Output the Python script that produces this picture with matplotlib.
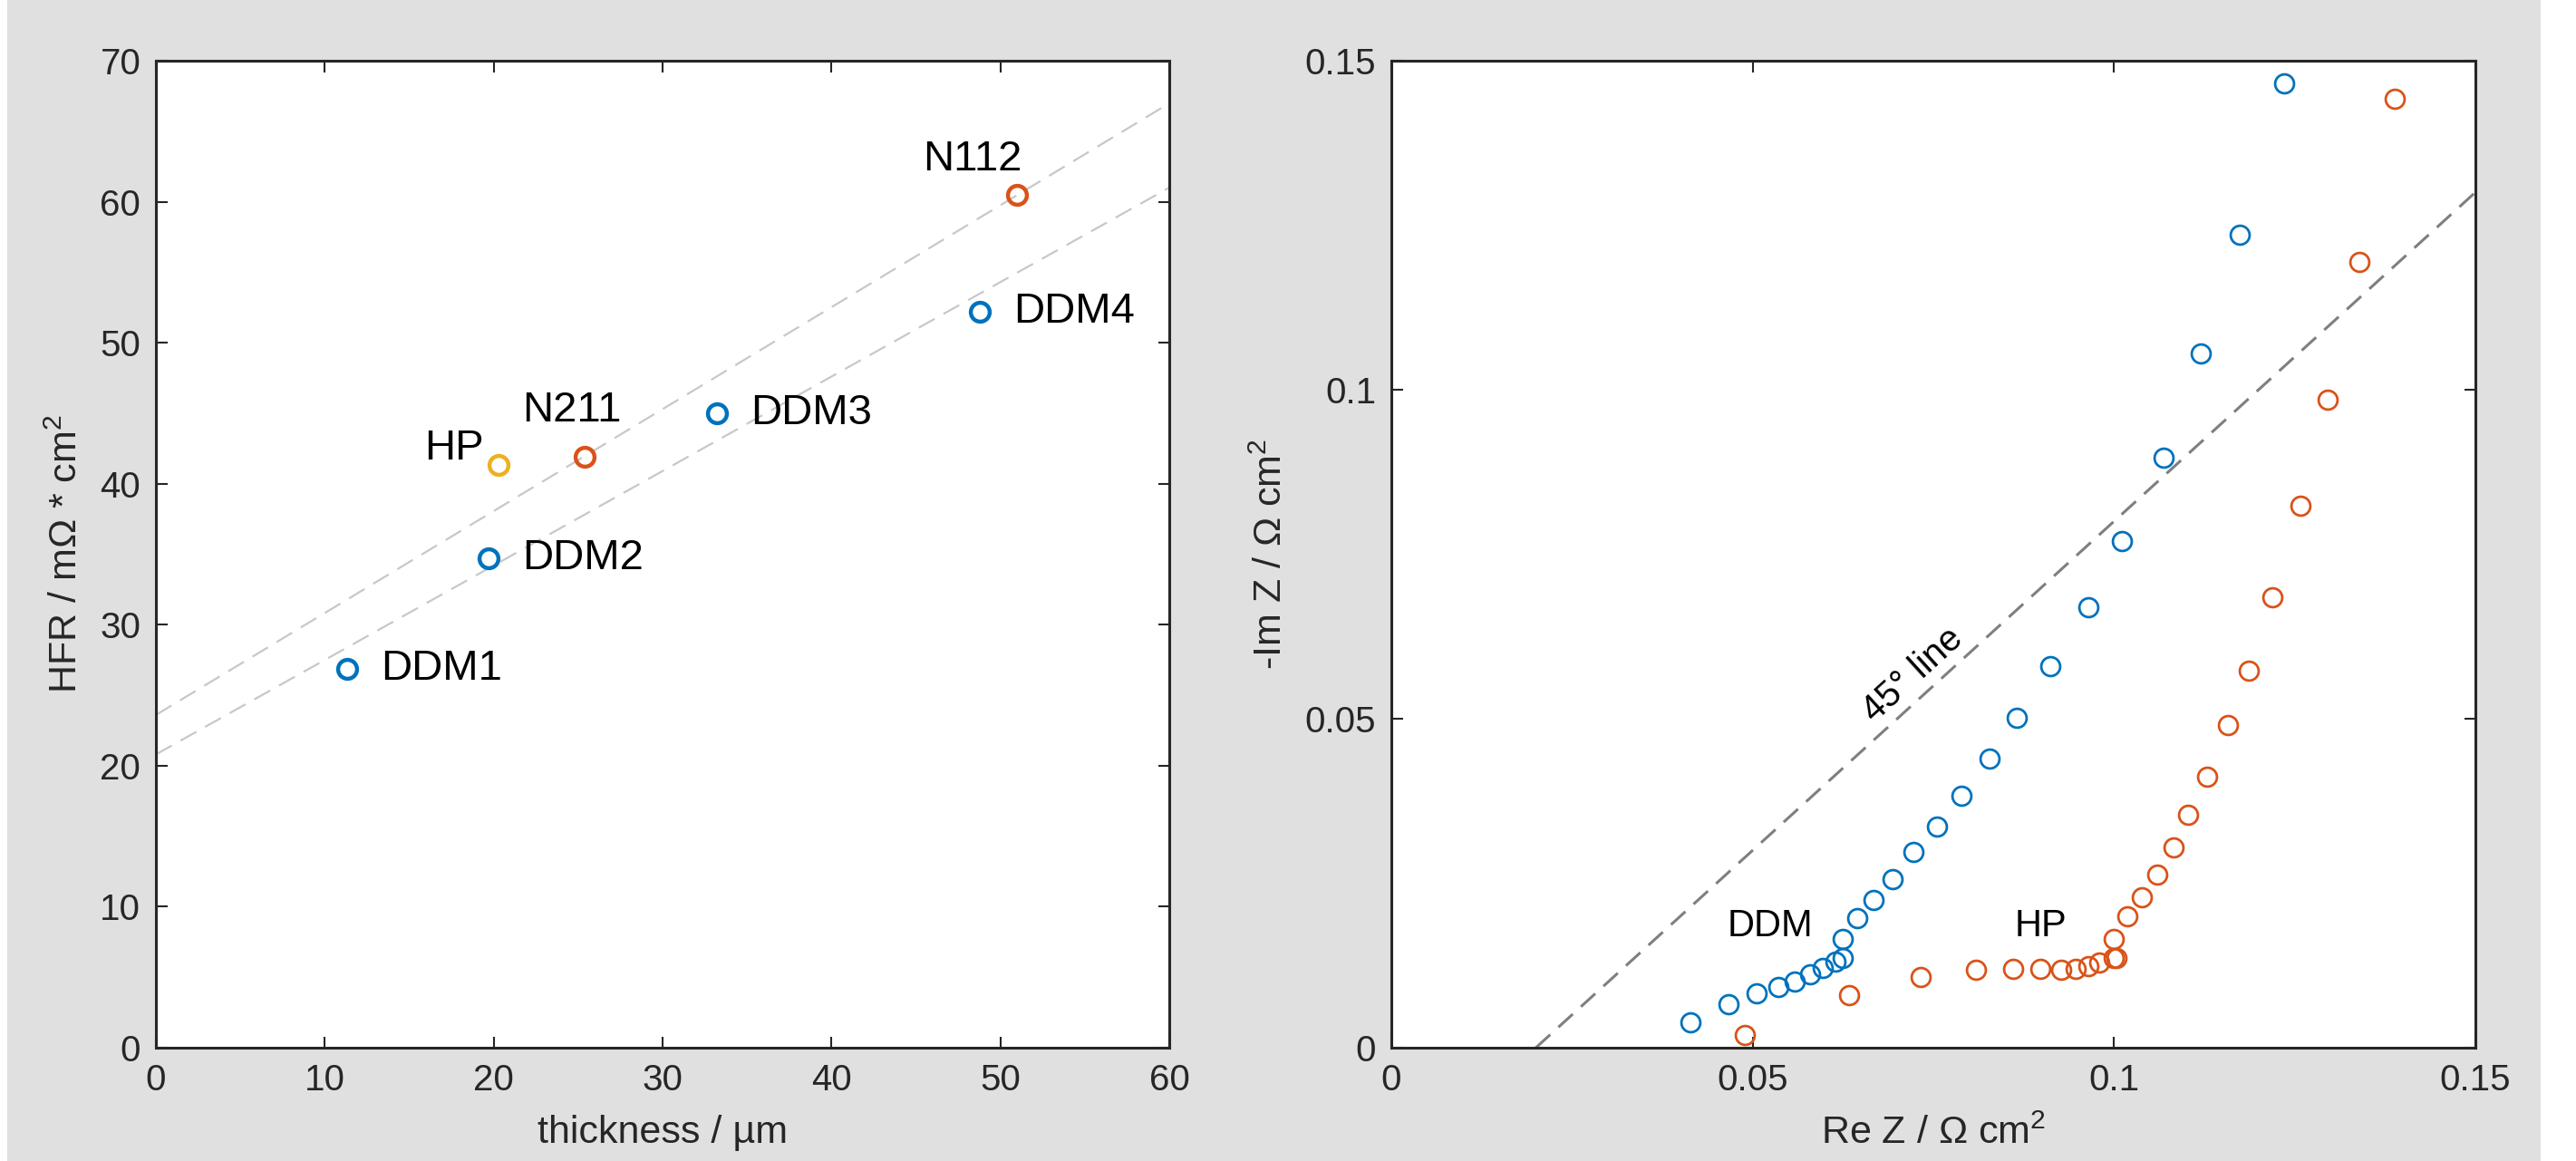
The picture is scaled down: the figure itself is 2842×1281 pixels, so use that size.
import numpy as np
import matplotlib.pyplot as plt
from matplotlib.patches import Rectangle

plt.rcParams['font.family'] = ['Liberation Sans', 'DejaVu Sans']
plt.rcParams['mathtext.default'] = 'regular'

# left panel: HFR vs thickness
ddm_names = ['DDM1', 'DDM2', 'DDM3', 'DDM4']
ddm_thick = [11.3, 19.7, 33.2, 48.8]
ddm_hfr = [26.9, 34.7, 45.0, 52.2]
hp_thick = [20.3]
hp_hfr = [41.3]
naf_names = ['N211', 'N112']
naf_thick = [25.4, 51.0]
naf_hfr = [41.9, 60.5]
# guide lines (intercept, slope)
fit_upper = (23.6, 0.723)
fit_lower = (20.8, 0.670)

# right panel: Nyquist data
ddm_re = [0.0414, 0.0466, 0.0506, 0.0536, 0.0558, 0.0579, 0.0597, 0.0614, 0.0625,
          0.0624, 0.0645, 0.0667, 0.0694, 0.0723, 0.0755, 0.0789, 0.0828, 0.0866,
          0.0912, 0.0964, 0.1011, 0.1068, 0.1120, 0.1174, 0.1235]
ddm_im = [0.0038, 0.0066, 0.0083, 0.0092, 0.0101, 0.0111, 0.0121, 0.0131, 0.0136,
          0.0165, 0.0197, 0.0225, 0.0256, 0.0298, 0.0336, 0.0383, 0.0440, 0.0501,
          0.0580, 0.0669, 0.0770, 0.0897, 0.1055, 0.1235, 0.1466]
hp_re = [0.0489, 0.0633, 0.0733, 0.0809, 0.0860, 0.0898, 0.0927, 0.0947, 0.0964,
         0.0979, 0.0999, 0.1003, 0.1000, 0.1019, 0.1039, 0.1060, 0.1082, 0.1103,
         0.1129, 0.1158, 0.1187, 0.1219, 0.1258, 0.1296, 0.1339, 0.1389]
hp_im = [0.0019, 0.0080, 0.0108, 0.0118, 0.0120, 0.0120, 0.0118, 0.0120, 0.0124,
         0.0130, 0.0136, 0.0137, 0.0165, 0.0200, 0.0228, 0.0263, 0.0304, 0.0354,
         0.0412, 0.0491, 0.0573, 0.0684, 0.0824, 0.0985, 0.1194, 0.1442]
line45_x = [0.02, 0.15]

blue = '#0072BD'
orange = '#D95319'
yellow = '#EDB120'
tick_col = '#262626'

fig = plt.figure(figsize=(28.42, 12.81), dpi=100, facecolor='white')
fig.patches.append(Rectangle((8 / 2842, 0), (2803 - 8) / 2842, 1, transform=fig.transFigure,
                             facecolor='#e0e0e0', edgecolor='none', zorder=-10))

ax1 = fig.add_axes([172 / 2842, 1 - 1156 / 1281, (1290 - 172) / 2842, (1156 - 67) / 1281])
ax2 = fig.add_axes([1535 / 2842, 1 - 1156 / 1281, (2731 - 1535) / 2842, (1156 - 67) / 1281])

xx = np.array([0, 60])
for b, m in [fit_upper, fit_lower]:
    ax1.plot(xx, b + m * xx, color='#c8c8c8', lw=1.6, dashes=(9, 5))
ax1.plot(ddm_thick, ddm_hfr, 'o', mfc='none', mec=blue, ms=15, mew=3.2)
ax1.plot(hp_thick, hp_hfr, 'o', mfc='none', mec=yellow, ms=15, mew=3.2)
ax1.plot(naf_thick, naf_hfr, 'o', mfc='none', mec=orange, ms=15, mew=3.2)

fs_lab = 34
for n, x, y in zip(ddm_names, ddm_thick, ddm_hfr):
    ax1.text(x + 2.0, y, n, fontsize=fs_lab, va='center', ha='left')
ax1.text(hp_thick[0] - 0.9, hp_hfr[0] + 0.4, 'HP', fontsize=fs_lab, ha='right', va='baseline')
ax1.text(naf_thick[0] - 3.7, naf_hfr[0] + 2.5, naf_names[0], fontsize=fs_lab, ha='left', va='baseline')
ax1.text(naf_thick[1] - 5.6, naf_hfr[1] + 1.7, naf_names[1], fontsize=fs_lab, ha='left', va='baseline')

ax1.set_xlim(0, 60)
ax1.set_ylim(0, 70)
ax1.set_xticks(range(0, 61, 10))
ax1.set_yticks(range(0, 71, 10))
ax1.set_xlabel('thickness / µm', fontsize=31, color=tick_col, labelpad=14)
ax1.set_ylabel('HFR / mΩ * cm$^2$', fontsize=31, color=tick_col, labelpad=12)

ax2.plot(line45_x, np.array(line45_x) - 0.02, color='#7f7f7f', lw=2.2, dashes=(7, 4))
ax2.plot(ddm_re, ddm_im, 'o', mfc='none', mec=blue, ms=15, mew=2.0)
ax2.plot(hp_re, hp_im, 'o', mfc='none', mec=orange, ms=15, mew=2.0)
ax2.text(0.0465, 0.0185, 'DDM', fontsize=30, va='center', ha='left')
ax2.text(0.0862, 0.0185, 'HP', fontsize=30, va='center', ha='left')
ax2.text(0.0721, 0.0567, '45° line', fontsize=29, va='center', ha='center',
         rotation=45, rotation_mode='anchor', transform_rotates_text=True)
ax2.set_xlim(0, 0.15)
ax2.set_ylim(0, 0.15)
ax2.set_xticks([0, 0.05, 0.1, 0.15])
ax2.set_yticks([0, 0.05, 0.1, 0.15])
ax2.set_xticklabels(['0', '0.05', '0.1', '0.15'])
ax2.set_yticklabels(['0', '0.05', '0.1', '0.15'])
ax2.set_xlabel('Re Z / Ω cm$^2$', fontsize=31, color=tick_col, labelpad=14)
ax2.set_ylabel('-Im Z / Ω cm$^2$', fontsize=31, color=tick_col, labelpad=12)

for ax in (ax1, ax2):
    ax.tick_params(direction='in', length=9, width=1.5, top=True, right=True,
                   labelsize=29, colors=tick_col, pad=12)
    for s in ax.spines.values():
        s.set_linewidth(2.2)
        s.set_color(tick_col)

fig.savefig('out.png', dpi=100, facecolor=fig.get_facecolor())
